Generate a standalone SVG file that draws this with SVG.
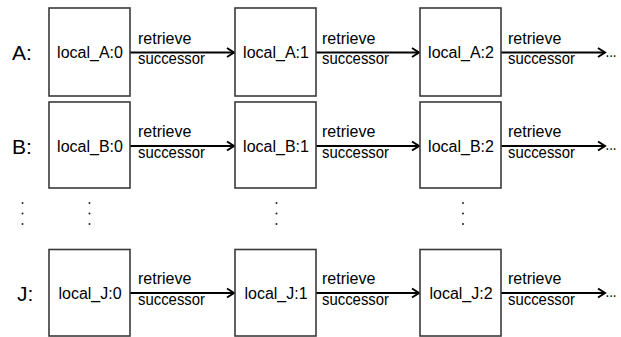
<svg xmlns="http://www.w3.org/2000/svg" width="621" height="337" viewBox="0 0 621 337">
  <style>
    .box { fill: #ffffff; stroke: #3a3a3a; stroke-width: 1.6; }
    .name { font-family: "Liberation Sans", Arial, sans-serif; font-size: 16px; fill: #000; text-anchor: middle; }
    .lbl { font-family: "Liberation Sans", Arial, sans-serif; font-size: 16px; fill: #000; }
    .row { font-family: "Liberation Sans", Arial, sans-serif; font-size: 21px; fill: #000; }
    .edge { stroke: #000; stroke-width: 2; fill: none; marker-end: url(#arrow); }
    .dot { fill: #222; }
  </style>
  <defs>
    <marker id="arrow" markerWidth="10" markerHeight="12" refX="8" refY="6" orient="auto" markerUnits="userSpaceOnUse">
      <path d="M1,1.5 L8,6 L1,10.5" fill="none" stroke="#000" stroke-width="2"/>
    </marker>
  </defs>
  <rect width="621" height="337" fill="#ffffff"/>

  <!-- row labels -->
  <text class="row" x="12" y="59.5">A:</text>
  <text class="row" x="12" y="153.5">B:</text>
  <text class="row" x="17" y="300.5">J:</text>

  <!-- connectors -->
  <g id="connectors">
    <line class="edge" x1="130" y1="52.5" x2="234" y2="52.5"/>
    <line class="edge" x1="316" y1="52.5" x2="419" y2="52.5"/>
    <line class="edge" x1="501" y1="52.5" x2="605" y2="52.5"/>
    <line class="edge" x1="130" y1="146" x2="234" y2="146"/>
    <line class="edge" x1="316" y1="146" x2="419" y2="146"/>
    <line class="edge" x1="501" y1="146" x2="605" y2="146"/>
    <line class="edge" x1="130" y1="293" x2="234" y2="293"/>
    <line class="edge" x1="316" y1="293" x2="419" y2="293"/>
    <line class="edge" x1="501" y1="293" x2="605" y2="293"/>

    <g class="lbl">
      <text x="138" y="43.5">retrieve</text><text x="138" y="64" textLength="67" lengthAdjust="spacingAndGlyphs">successor</text>
      <text x="322" y="43.5">retrieve</text><text x="322" y="64" textLength="67" lengthAdjust="spacingAndGlyphs">successor</text>
      <text x="508" y="43.5">retrieve</text><text x="508" y="64" textLength="67" lengthAdjust="spacingAndGlyphs">successor</text>
      <text x="138" y="137">retrieve</text><text x="138" y="158" textLength="67" lengthAdjust="spacingAndGlyphs">successor</text>
      <text x="322" y="137">retrieve</text><text x="322" y="158" textLength="67" lengthAdjust="spacingAndGlyphs">successor</text>
      <text x="508" y="137">retrieve</text><text x="508" y="158" textLength="67" lengthAdjust="spacingAndGlyphs">successor</text>
      <text x="138" y="284">retrieve</text><text x="138" y="305" textLength="67" lengthAdjust="spacingAndGlyphs">successor</text>
      <text x="322" y="284">retrieve</text><text x="322" y="305" textLength="67" lengthAdjust="spacingAndGlyphs">successor</text>
      <text x="508" y="284">retrieve</text><text x="508" y="305" textLength="67" lengthAdjust="spacingAndGlyphs">successor</text>
    </g>
    <g class="lbl">
      <text x="605.5" y="56.5" textLength="11" lengthAdjust="spacingAndGlyphs">...</text>
      <text x="605.5" y="150" textLength="11" lengthAdjust="spacingAndGlyphs">...</text>
      <text x="605.5" y="297" textLength="11" lengthAdjust="spacingAndGlyphs">...</text>
    </g>
  </g>

  <!-- row A -->
  <g id="A0"><rect class="box" x="49" y="8" width="81" height="88"/><text class="name" x="90" y="58">local_A:0</text></g>
  <g id="A1"><rect class="box" x="235" y="8" width="81" height="88"/><text class="name" x="276" y="58">local_A:1</text></g>
  <g id="A2"><rect class="box" x="420" y="8" width="81" height="88"/><text class="name" x="461" y="58">local_A:2</text></g>

  <!-- row B -->
  <g id="B0"><rect class="box" x="49" y="102" width="81" height="86"/><text class="name" x="90" y="151.5">local_B:0</text></g>
  <g id="B1"><rect class="box" x="235" y="102" width="81" height="86"/><text class="name" x="276" y="151.5">local_B:1</text></g>
  <g id="B2"><rect class="box" x="420" y="102" width="81" height="86"/><text class="name" x="461" y="151.5">local_B:2</text></g>

  <!-- row J -->
  <g id="J0"><rect class="box" x="49" y="249.5" width="81" height="86.5"/><text class="name" x="90" y="298.5">local_J:0</text></g>
  <g id="J1"><rect class="box" x="235" y="249.5" width="81" height="86.5"/><text class="name" x="276" y="298.5">local_J:1</text></g>
  <g id="J2"><rect class="box" x="420" y="249.5" width="81" height="86.5"/><text class="name" x="461" y="298.5">local_J:2</text></g>

  <!-- vertical ellipses between rows -->
  <g id="ellipses">
    <circle class="dot" cx="22.5" cy="203" r="1"/><circle class="dot" cx="22.5" cy="213.5" r="1"/><circle class="dot" cx="22.5" cy="224" r="1"/>
    <circle class="dot" cx="89.5" cy="203" r="1"/><circle class="dot" cx="89.5" cy="213.5" r="1"/><circle class="dot" cx="89.5" cy="224" r="1"/>
    <circle class="dot" cx="276.5" cy="203" r="1"/><circle class="dot" cx="276.5" cy="213.5" r="1"/><circle class="dot" cx="276.5" cy="224" r="1"/>
    <circle class="dot" cx="463" cy="203" r="1"/><circle class="dot" cx="463" cy="213.5" r="1"/><circle class="dot" cx="463" cy="224" r="1"/>
  </g>
</svg>
